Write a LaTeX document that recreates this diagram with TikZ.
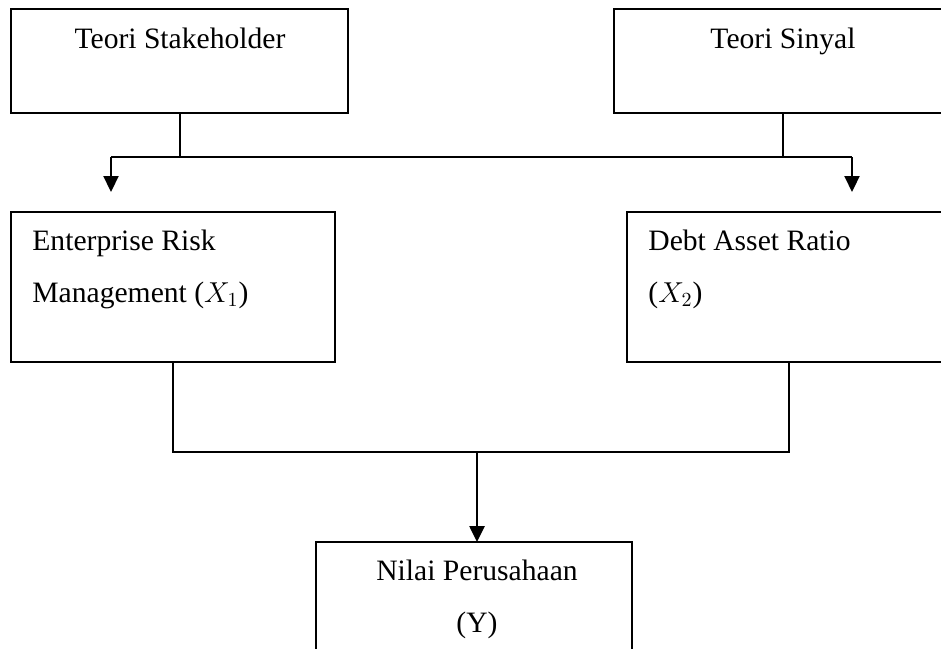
\documentclass[tikz,border=0pt]{standalone}
\usepackage{fontspec}
\setmainfont{Liberation Serif}
\usetikzlibrary{arrows.meta}
\begin{document}
\begin{tikzpicture}[x=0.5pt,y=-0.5pt,
  txt/.style={font=\fontsize{14.8pt}{17pt}\selectfont, inner sep=0pt},
  conn/.style={line width=1.1pt},
  tip/.style={-{Triangle[width=7.5pt,length=8pt]}},
  arr/.style={line width=1.1pt, tip}]
\useasboundingbox (0,0) rectangle (941,648);
% boxes
\node[draw, line width=1pt, inner sep=0pt, minimum width=168.5pt, minimum height=52pt] (tl) at (179.5,61) {};
\node[draw, line width=1pt, inner sep=0pt, minimum width=169pt, minimum height=52pt] (tr) at (783,61) {};
\node[draw, line width=1pt, inner sep=0pt, minimum width=162pt, minimum height=75pt] (ml) at (173,287) {};
\node[draw, line width=1pt, inner sep=0pt, minimum width=162pt, minimum height=75pt] (mr) at (789,287) {};
\node[draw, line width=1pt, inner sep=0pt, minimum width=158pt, minimum height=70pt] (bt) at (474,612) {};
% texts
\node[txt, anchor=base] (t1) at (180,48) {Teori Stakeholder};
\node[txt, anchor=base] (t2) at (783,48) {Teori Sinyal};
\node[txt, anchor=base west] (t3) at (32,250) {Enterprise Risk};
\node[txt, anchor=base west] (t4) at (32,302) {Management ($X_1$)};
\node[txt, anchor=base west] (t5) at (648,250) {Debt Asset Ratio};
\node[txt, anchor=base west] (t6) at (648,302) {($X_2$)};
\node[txt, anchor=base] (t7) at (477,580) {Nilai Perusahaan};
\node[txt, anchor=base] (t8) at (477,632) {(Y)};
% connectors top
\coordinate (hl) at (111,157);
\coordinate (hr) at (852,157);
\coordinate (a1) at (111,192);
\coordinate (a2) at (852,192);
\draw[conn] (tl.south -| 180,0) -- (180,157);
\draw[conn] (tr.south) -- (tr.south |- hl);
\draw[conn] (hl) -- (hr);
\draw[arr] (hl) -- (a1);
\draw[arr] (hr) -- (a2);
% connectors bottom
\coordinate (jm) at (477,452);
\draw[line width=1.3pt] (ml.south) |- (jm) -| (mr.south);
\draw[line width=1.3pt, tip] (jm) -- (477,542);
\end{tikzpicture}
\end{document}
